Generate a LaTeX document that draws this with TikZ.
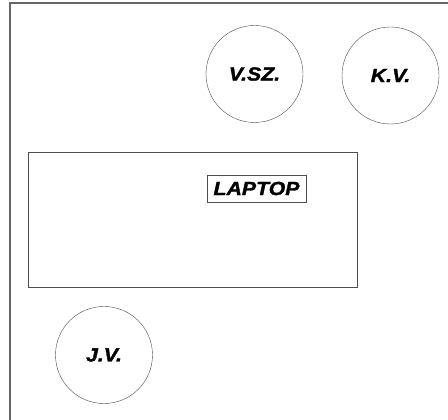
\documentclass[tikz,border=0pt]{standalone}
\usepackage{fontspec}
\setmainfont{Liberation Sans}
\newfontfamily\nevfont[FakeStretch=1.12, FakeBold=1.6]{Liberation Sans}
\begin{document}
\begin{tikzpicture}[x=1pt, y=1pt,
  szemely/.style={circle, draw=black!70, thin, minimum size=97pt, inner sep=0pt,
                  font=\nevfont\fontsize{19}{19}\selectfont\bfseries\itshape},
  felirat/.style={draw=black!70, thin, inner sep=0pt, minimum width=99pt, minimum height=27pt,
                  font=\nevfont\fontsize{19}{19}\selectfont\bfseries\itshape}]

  % keret
  \useasboundingbox (0,0) rectangle (448,420);
  \draw[black!60, line width=1.2pt] (10,0) -- (10,417) -- (448,417);

  % asztal
  \node[draw=black!70, thin, minimum width=329pt, minimum height=135pt, inner sep=0pt]
       (asztal) at (192.5,200.5) {};
  \node[felirat] (laptop) at (256.5,231.5) {LAPTOP};

  % ulohelyek
  \node[szemely] (vsz) at (254.5,346) {V.SZ.};
  \node[szemely] (kv)  at (390.5,344.5) {K.V.};
  \node[szemely] (jv)  at (104,65) {J.V.};

\end{tikzpicture}
\end{document}
